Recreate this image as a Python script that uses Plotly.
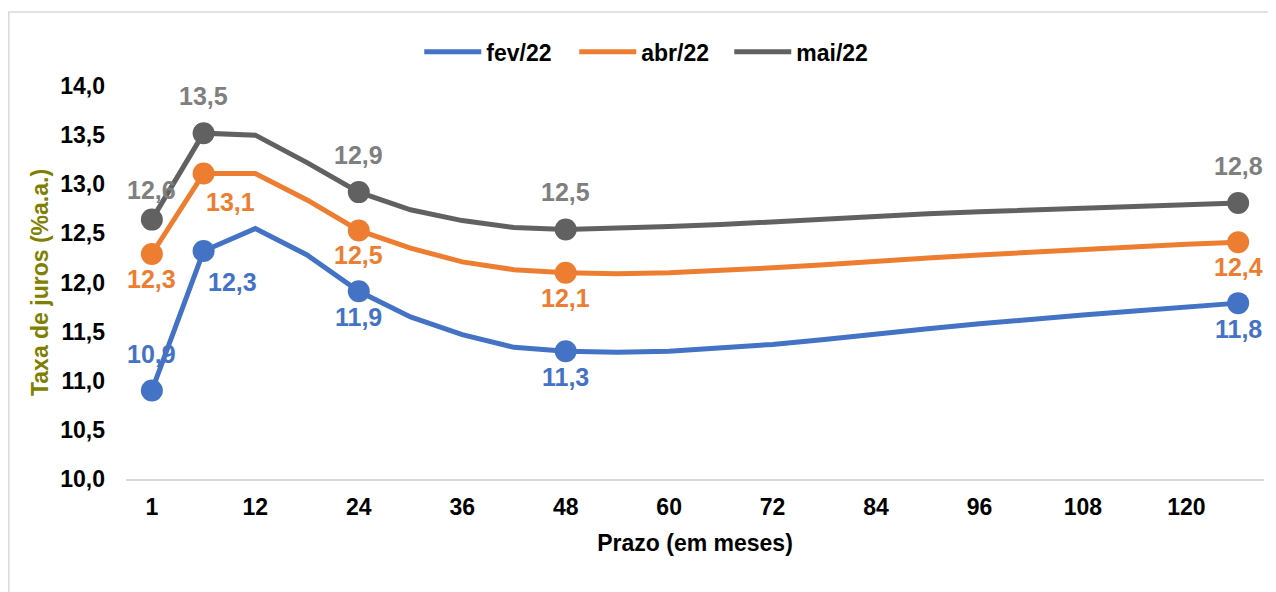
import plotly.graph_objects as go

# ---- data ----
months = [1, 6, 12, 18, 24, 30, 36, 42, 48, 54, 60, 66, 72, 78, 84, 90, 96, 102, 108, 114, 120, 126]
tick_months = [1, 12, 24, 36, 48, 60, 72, 84, 96, 108, 120]
marker_months = [1, 6, 24, 48, 126]

fev22 = [10.90, 12.32, 12.55, 12.28, 11.91, 11.65, 11.47, 11.34, 11.30, 11.29, 11.30, 11.33,
         11.37, 11.42, 11.48, 11.53, 11.58, 11.63, 11.67, 11.71, 11.75, 11.79]
abr22 = [12.29, 13.11, 13.11, 12.84, 12.53, 12.35, 12.21, 12.13, 12.10, 12.09, 12.10, 12.12,
         12.15, 12.18, 12.22, 12.25, 12.28, 12.31, 12.34, 12.37, 12.39, 12.41]
mai22 = [12.64, 13.52, 13.50, 13.22, 12.92, 12.74, 12.63, 12.56, 12.54, 12.55, 12.57, 12.59,
         12.62, 12.65, 12.67, 12.70, 12.72, 12.74, 12.76, 12.78, 12.80, 12.81]

series_names = ["fev/22", "abr/22", "mai/22"]
series_values = [fev22, abr22, mai22]

# ---- style ----
line_colors = ["#4472C4", "#ED7D31", "#616161"]
label_colors = ["#4472C4", "#ED7D31", "#7F7F7F"]
# label offsets (xshift, yshift) per marker point, per series
label_offsets = [
    [(0, 37), (29, -31), (0, -26), (0, -26), (0, -26)],
    [(0, -25), (27, -29), (0, -25), (0, -25), (0, -25)],
    [(0, 30), (0, 37), (0, 37), (0, 37), (0, 37)],
]
FONT = "Liberation Sans, Arial, sans-serif"

cats = [str(m) for m in months]

fig = go.Figure()
annotations = []
for name, vals, lc, tc, offs in zip(series_names, series_values, line_colors, label_colors, label_offsets):
    fig.add_trace(go.Scatter(
        x=cats, y=vals, mode="lines", name=name,
        line=dict(color=lc, width=5),
    ))
    idx = [months.index(m) for m in marker_months]
    mx = [cats[i] for i in idx]
    my = [vals[i] for i in idx]
    fig.add_trace(go.Scatter(
        x=mx, y=my, mode="markers", showlegend=False,
        marker=dict(color=lc, size=22),
    ))
    for i, yv, (dx, dy) in zip(idx, my, offs):
        annotations.append(dict(
            x=i, y=yv, xref="x", yref="y", showarrow=False,
            text=f"{yv:.1f}".replace(".", ","),
            xshift=dx, yshift=dy, xanchor="center", yanchor="middle",
            font=dict(family=FONT, size=25, color=tc, weight="bold"),
        ))

fig.update_layout(
    width=1268, height=584,
    margin=dict(l=118, r=12, t=78, b=113),
    paper_bgcolor="white", plot_bgcolor="white",
    separators=",.",
    font=dict(family=FONT, color="black"),
    showlegend=True,
    legend=dict(
        orientation="h", x=0.462, xanchor="center", y=1.087, yanchor="middle",
        font=dict(family=FONT, size=23, color="black", weight="bold"),
        bgcolor="rgba(0,0,0,0)", itemwidth=57,
        entrywidth=83, entrywidthmode="pixels",
    ),
    annotations=annotations,
    shapes=[dict(
        type="rect", xref="paper", yref="paper",
        x0=-0.1030, x1=1.2, y0=-0.6, y1=1.188,
        line=dict(color="#D9D9D9", width=1.5), fillcolor="rgba(0,0,0,0)", layer="below",
    )],
)

fig.update_xaxes(
    type="category", categoryorder="array", categoryarray=cats,
    range=[-0.5, len(cats) - 0.5],
    tickmode="array", tickvals=[str(m) for m in tick_months], ticktext=[str(m) for m in tick_months],
    showgrid=False, zeroline=False,
    showline=True, linecolor="#D9D9D9", linewidth=2,
    ticks="", ticklabelstandoff=6,
    tickfont=dict(family=FONT, size=23, color="black", weight="bold"),
    title=dict(text="Prazo (em meses)", standoff=16,
               font=dict(family=FONT, size=23, color="black", weight="bold")),
)
fig.update_yaxes(
    range=[10, 14], dtick=0.5, tickformat=".1f",
    showgrid=False, zeroline=False, showline=False,
    ticks="", ticklabelstandoff=20,
    tickfont=dict(family=FONT, size=23, color="black", weight="bold"),
    title=dict(text="Taxa de juros (%a.a.)", standoff=5,
               font=dict(family=FONT, size=23, color="#7F7F00", weight="bold")),
)

fig.write_html("out.html")
